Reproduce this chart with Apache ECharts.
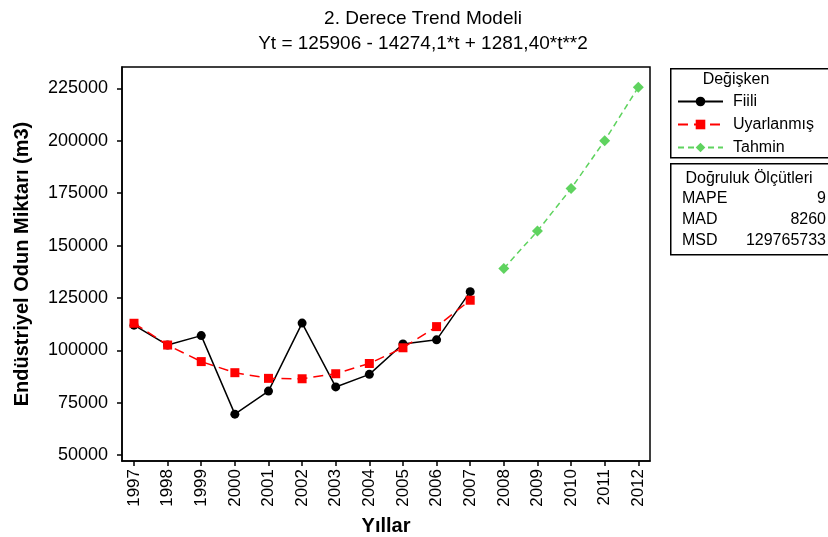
<!DOCTYPE html>
<html><head><meta charset="utf-8">
<script src="https://cdn.jsdelivr.net/npm/echarts@6/dist/echarts.min.js"></script>
<style>html,body{margin:0;padding:0;background:#fff}#c{width:828px;height:537px}</style>
</head><body><div id="c"></div>
<script>
const years = [1997,1998,1999,2000,2001,2002,2003,2004,2005,2006,2007,2008,2009,2010,2011,2012];
const fitYears = [1997,1998,1999,2000,2001,2002,2003,2004,2005,2006,2007];
const fcYears = [2008,2009,2010,2011,2012];
const fiili = [112000,102500,107000,69500,80500,113000,82500,88500,103000,105000,128000];
const uyarlanmis = [112900,102500,94600,89300,86600,86400,88800,93700,101200,111300,123900];
const tahmin = [139100,156900,177200,200100,225600];
const yTicks = [50000,75000,100000,125000,150000,175000,200000,225000];
const accLabels = ['MAPE','MAD','MSD'];
const accValues = ['9','8260','129765733'];

const FONT = 'Liberation Sans, Arial, sans-serif';
const green = '#5fd35f';
const chart = echarts.init(document.getElementById('c'), null, {renderer:'canvas'});

const pairs = (xs, ys) => xs.map((x,i)=>[x, ys[i]]);

const accGraphics = [];
accLabels.forEach((l,i)=>{
  accGraphics.push({type:'text', x:682, y:199+i*21, style:{text:l, font:'16px '+FONT, fill:'#000', textVerticalAlign:'middle'}});
  accGraphics.push({type:'text', x:826, y:199+i*21, style:{text:accValues[i], font:'16px '+FONT, fill:'#000', textAlign:'right', textVerticalAlign:'middle'}});
});

chart.setOption({
  animation:false,
  backgroundColor:'#fff',
  title:{text:'2. Derece Trend Modeli\nYt = 125906 - 14274,1*t + 1281,40*t**2', left:418, top:1, textAlign:'center',
    textStyle:{fontFamily:FONT, fontSize:19, fontWeight:'normal', color:'#000', lineHeight:25}},
  grid:{left:122, top:67, width:528, height:394, show:true, borderColor:'#000', borderWidth:1.5, backgroundColor:'#fff', containLabel:false, outerBoundsMode:'none'},
  xAxis:{type:'value', min:1996.643, max:2012.348,
    name:'Yıllar', nameLocation:'middle', nameGap:55,
    nameTextStyle:{fontFamily:FONT, fontSize:20, fontWeight:'bold', color:'#000'},
    axisLine:{show:true, lineStyle:{color:'#000', width:1.5}},
    axisTick:{show:true, length:5, inside:false, customValues:years, lineStyle:{color:'#000', width:1.5}},
    axisLabel:{customValues:years, rotate:90, fontFamily:FONT, fontSize:17, color:'#000', margin:8, formatter:v=>String(Math.round(v))},
    splitLine:{show:false}},
  yAxis:{type:'value', min:47135, max:235265,
    name:'Endüstriyel Odun Miktarı (m3)', nameLocation:'middle', nameGap:90, nameRotate:90,
    nameTextStyle:{fontFamily:FONT, fontSize:20, fontWeight:'bold', color:'#000'},
    axisLine:{show:true, lineStyle:{color:'#000', width:1.5}},
    axisTick:{show:true, length:5, customValues:yTicks, lineStyle:{color:'#000', width:1.5}},
    axisLabel:{customValues:yTicks, fontFamily:FONT, fontSize:18, color:'#000', margin:14, formatter:v=>String(Math.round(v))},
    splitLine:{show:false}},
  legend:{orient:'vertical', left:677, top:93, padding:0, itemWidth:45, itemHeight:12, itemGap:6,
    textStyle:{fontFamily:FONT, fontSize:16, color:'#000', padding:[0,0,0,5], lineHeight:17},
    data:['Fiili','Uyarlanmış','Tahmin']},
  graphic:[
    {type:'rect', left:670, top:68, z:-1, shape:{width:170, height:89}, style:{fill:'#fff', stroke:'#000', lineWidth:1.5}},
    {type:'text', x:736, y:80, style:{text:'Değişken', font:'16px '+FONT, fill:'#000', textAlign:'center', textVerticalAlign:'middle'}},
    {type:'rect', left:670, top:163, shape:{width:170, height:91}, style:{fill:'#fff', stroke:'#000', lineWidth:1.5}},
    {type:'text', x:749, y:179, style:{text:'Doğruluk Ölçütleri', font:'16px '+FONT, fill:'#000', textAlign:'center', textVerticalAlign:'middle'}},
    ...accGraphics
  ],
  series:[
    {name:'Fiili', type:'line', data:pairs(fitYears,fiili), symbol:'circle', symbolSize:9,
      itemStyle:{color:'#000'}, lineStyle:{color:'#000', width:1.5}, z:3},
    {name:'Uyarlanmış', type:'line', data:pairs(fitYears,uyarlanmis), symbol:'rect', symbolSize:9,
      itemStyle:{color:'#ff0000'}, lineStyle:{color:'#ff0000', width:1.5, type:[10,6]}, z:4},
    {name:'Tahmin', type:'line', data:pairs(fcYears,tahmin), symbol:'diamond', symbolSize:11,
      itemStyle:{color:green}, lineStyle:{color:green, width:1.5, type:[6,4]}, z:4}
  ]
});
</script></body></html>
